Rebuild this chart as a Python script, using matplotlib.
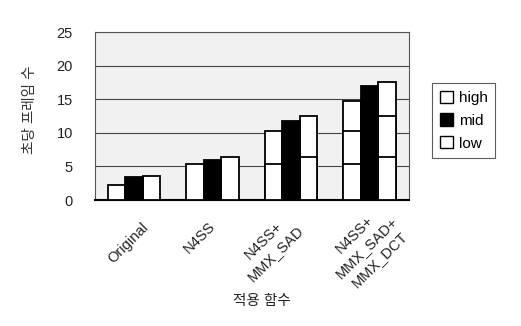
import matplotlib
matplotlib.use("Agg")
import matplotlib.pyplot as plt
import matplotlib.transforms as mtransforms
from matplotlib.patches import Patch
import numpy as np

plt.rcParams['font.family'] = ['Liberation Sans', 'Noto Sans CJK KR']

groups = ['Original', 'N4SS', 'N4SS+\nMMX_SAD', 'N4SS+\nMMX_SAD+\nMMX_DCT']
high = [2.2, 5.3, 10.3, 14.7]
mid = [3.4, 6.0, 11.8, 17.0]
low = [3.6, 6.4, 12.5, 17.6]
yticks = [0, 5, 10, 15, 20, 25]

fig = plt.figure(figsize=(5.21, 3.26), dpi=100)
ax = fig.add_axes([0.1823, 0.3865, 0.6027, 0.5153])
ax.set_facecolor('#f1f1f1')

x = np.arange(len(groups))
w = 0.223

# white bars in later groups show the earlier groups' tops as lines
for series, off in ((high, -w), (low, w)):
    for k in range(len(groups)):
        layers = [series[k]] + [series[j] for j in range(k - 1, 0, -1) if k >= 2]
        for h in layers:
            ax.bar(x[k] + off, h, w, color='white', edgecolor='black', linewidth=1.3, zorder=3)
ax.bar(x, mid, w, color='black', edgecolor='black', linewidth=1.3, zorder=3)

ax.set_xlim(-0.5, 3.5)
ax.set_ylim(0, 25)
ax.set_yticks(yticks)
ax.set_yticklabels([str(t) for t in yticks], fontsize=10.5, color='#222222')
ax.tick_params(axis='y', length=0, pad=16)
ax.set_xticks([])
ax.yaxis.grid(True, color='#444444', linewidth=0.8)
ax.set_axisbelow(True)
for s in ax.spines.values():
    s.set_color('#555555')
    s.set_linewidth(0.8)
ax.spines['bottom'].set_color('black')
ax.spines['bottom'].set_linewidth(1.5)

# category labels, rotated, placed under each group
base = mtransforms.blended_transform_factory(ax.transData, ax.transAxes)
shifts = [(-6, 43), (-13, 38), (-22, 47), (-3, 47)]
for k, (lab, (dx, dy)) in enumerate(zip(groups, shifts)):
    tr = base + mtransforms.ScaledTranslation(dx / 100, -dy / 100, fig.dpi_scale_trans)
    ax.text(x[k], 0, lab, transform=tr, rotation=45, rotation_mode='anchor',
            ha='center', va='center', multialignment='center', fontsize=10.5,
            color='#222222', linespacing=1.3)

fig.text(30 / 521, 1 - 110 / 326, '초당 프레임 수', rotation=90, ha='center', va='center',
         fontsize=10.5, color='#333333')
fig.text(262 / 521, 1 - 301 / 326, '적용 함수', ha='center', va='center',
         fontsize=10.5, color='#222222')

handles = [Patch(facecolor='white', edgecolor='black', label='high'),
           Patch(facecolor='black', edgecolor='black', label='mid'),
           Patch(facecolor='white', edgecolor='black', label='low')]
leg = fig.legend(handles=handles, loc='upper left', bbox_to_anchor=(432 / 521, 1 - 83 / 326),
                 fontsize=11, frameon=True, fancybox=False, edgecolor='#333333',
                 handlelength=0.85, handleheight=0.85, handletextpad=0.4, labelspacing=0.55,
                 borderpad=0.5, borderaxespad=0)
leg.get_frame().set_linewidth(0.8)

fig.savefig('out.png', dpi=100)
